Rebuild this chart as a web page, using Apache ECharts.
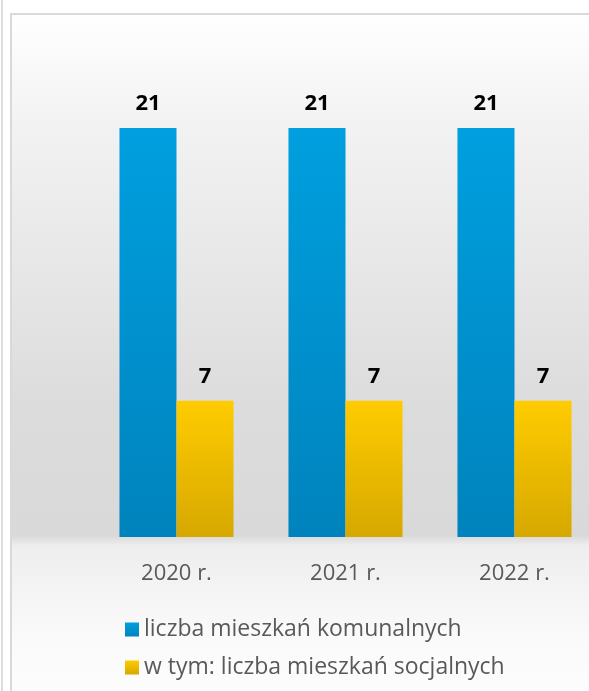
<!DOCTYPE html>
<html>
<head>
<meta charset="utf-8">
<script src="https://cdn.jsdelivr.net/npm/echarts@6/dist/echarts.min.js"></script>
<style>
  html, body { margin: 0; padding: 0; background: #ffffff; }
  #chart { width: 589px; height: 691px; }
</style>
</head>
<body>
<div id="chart"></div>
<script>
const categories = ["2020 r.", "2021 r.", "2022 r."];
const communal = [21, 21, 21];
const social = [7, 7, 7];
const seriesNames = ["liczba mieszkań komunalnych", "w tym: liczba mieszkań socjalnych"];

const chart = echarts.init(document.getElementById("chart"));

const blueFill = new echarts.graphic.LinearGradient(0, 0, 0, 1, [
  { offset: 0, color: "#009fdf" },
  { offset: 1, color: "#0083bd" }
]);
const yellowFill = new echarts.graphic.LinearGradient(0, 0, 0, 1, [
  { offset: 0, color: "#ffcc00" },
  { offset: 1, color: "#d6a800" }
]);

const valueLabel = {
  show: true, position: "top", distance: 13,
  fontSize: 22, fontWeight: "bold", color: "#000000"
};

chart.setOption({
  animation: false,
  textStyle: { fontFamily: "Open Sans" },
  graphic: [
    // panel background
    {
      type: "rect", z: -10, silent: true,
      shape: { x: 11, y: 14, width: 590, height: 690 },
      style: {
        fill: new echarts.graphic.LinearGradient(0, 0, 0, 1, [
          { offset: 0, color: "#ffffff" },
          { offset: 0.165, color: "#f2f2f2" },
          { offset: 0.57, color: "#dcdcdc" },
          { offset: 0.755, color: "#d9d9d9" },
          { offset: 0.77, color: "#eeeeee" },
          { offset: 0.9, color: "#fafafa" },
          { offset: 1, color: "#fdfdfd" }
        ]),
        stroke: "#d9d9d9", lineWidth: 2
      }
    },
    {
      type: "line", z: -9, silent: true,
      shape: { x1: 2, y1: 0, x2: 2, y2: 691 },
      style: { stroke: "#dddddd", lineWidth: 2 }
    }
  ],
  legend: {
    orient: "vertical",
    left: 120,
    top: 613,
    itemWidth: 14,
    itemHeight: 14,
    itemGap: 15,
    icon: "rect",
    textStyle: { fontSize: 23, color: "#595959", fontFamily: "Open Sans" },
    data: seriesNames
  },
  grid: { left: 92, width: 507, top: 128, height: 409, outerBoundsMode: "none" },
  xAxis: {
    type: "category",
    data: categories,
    axisLine: { show: false },
    axisTick: { show: false },
    axisLabel: { fontSize: 22, color: "#595959", margin: 26 }
  },
  yAxis: {
    type: "value",
    min: 0,
    max: 21,
    show: false,
    splitLine: { show: false }
  },
  series: [
    {
      name: seriesNames[0],
      type: "bar",
      data: communal,
      barGap: "0%",
      barCategoryGap: "32.5%",
      itemStyle: { color: blueFill },
      label: valueLabel
    },
    {
      name: seriesNames[1],
      type: "bar",
      data: social,
      itemStyle: { color: yellowFill },
      label: valueLabel
    }
  ]
});
</script>
</body>
</html>
